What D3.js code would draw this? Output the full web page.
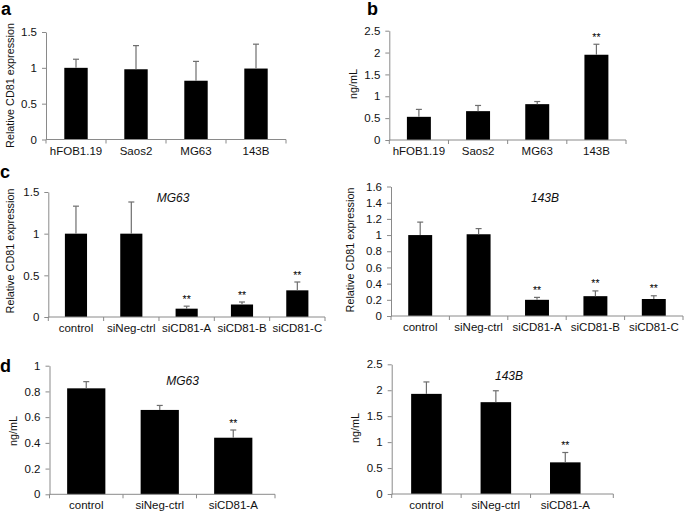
<!DOCTYPE html>
<html><head><meta charset="utf-8">
<script src="https://cdn.jsdelivr.net/npm/d3@7"></script>
<style>
body{margin:0;background:#fff}
svg{display:block}
text{font-family:"Liberation Sans",Arial,sans-serif}
</style>
</head><body>
<svg id="fig" width="685" height="511"></svg>
<script>
// ---------- data ----------
const cellLines = ["hFOB1.19", "Saos2", "MG63", "143B"];
const siGroups5 = ["control", "siNeg-ctrl", "siCD81-A", "siCD81-B", "siCD81-C"];
const siGroups3 = ["control", "siNeg-ctrl", "siCD81-A"];

// a: relative CD81 expression in cell lines
const aValues = [1.00, 0.98, 0.82, 0.99];
const aErrors = [0.12, 0.33, 0.27, 0.34];
const aStars  = ["", "", "", ""];
const aTicks  = [0, 0.5, 1, 1.5];

// b: CD81 ng/mL in cell lines
const bValues = [0.53, 0.66, 0.82, 1.95];
const bErrors = [0.17, 0.13, 0.06, 0.24];
const bStars  = ["", "", "", "**"];
const bTicks  = [0, 0.5, 1, 1.5, 2, 2.5];

// c: relative CD81 expression after siRNA, MG63
const cMG63Values = [1.00, 1.00, 0.10, 0.15, 0.32];
const cMG63Errors = [0.33, 0.38, 0.03, 0.03, 0.10];
const cMG63Stars  = ["", "", "**", "**", "**"];
const cMG63Ticks  = [0, 0.5, 1, 1.5];

// c: relative CD81 expression after siRNA, 143B
const c143BValues = [1.00, 1.01, 0.20, 0.245, 0.21];
const c143BErrors = [0.16, 0.07, 0.03, 0.065, 0.04];
const c143BStars  = ["", "", "**", "**", "**"];
const c143BTicks  = [0, 0.2, 0.4, 0.6, 0.8, 1, 1.2, 1.4, 1.6];

// d: ng/mL after siRNA, MG63
const dMG63Values = [0.824, 0.656, 0.44];
const dMG63Errors = [0.052, 0.035, 0.06];
const dMG63Stars  = ["", "", "**"];
const dMG63Ticks  = [0, 0.2, 0.4, 0.6, 0.8, 1];

// d: ng/mL after siRNA, 143B
const d143BValues = [1.93, 1.77, 0.61];
const d143BErrors = [0.23, 0.22, 0.19];
const d143BStars  = ["", "", "**"];
const d143BTicks  = [0, 0.5, 1, 1.5, 2, 2.5];

// ---------- drawing ----------
const svg = d3.select("#fig");
const AXIS = "#8a8a8a";
const TXT = "#111";
const FS = 11.5;
const FF = '"Liberation Sans",Arial,sans-serif';

function panel(o) {
  const g = svg.append("g");
  const x = d3.scaleBand().domain(o.cats).range(o.xr).padding(0);
  const y = d3.scaleLinear().domain([0, o.ticks[o.ticks.length - 1]]).range(o.yr);
  const bw = x.step() * o.bw;
  const rows = o.cats.map((c, i) => ({c, v: o.vals[i], e: o.errs[i], s: o.stars[i]}));
  const cx = d => x(d.c) + x.bandwidth() / 2;

  // bars
  g.selectAll("rect.bar").data(rows).join("rect")
    .attr("class", "bar")
    .attr("x", d => cx(d) - bw / 2)
    .attr("y", d => y(d.v))
    .attr("width", bw)
    .attr("height", d => y(0) - y(d.v))
    .attr("fill", "#000");

  // error bars (upper only)
  g.selectAll("line.err").data(rows).join("line")
    .attr("class", "err")
    .attr("x1", cx).attr("x2", cx)
    .attr("y1", d => y(d.v)).attr("y2", d => y(d.v + d.e))
    .attr("stroke", "#6e6e6e").attr("stroke-width", 1.2);
  g.selectAll("line.cap").data(rows).join("line")
    .attr("class", "cap")
    .attr("x1", d => cx(d) - 3).attr("x2", d => cx(d) + 3)
    .attr("y1", d => y(d.v + d.e)).attr("y2", d => y(d.v + d.e))
    .attr("stroke", "#6e6e6e").attr("stroke-width", 1.2);

  // significance stars
  g.selectAll("text.star").data(rows.filter(d => d.s)).join("text")
    .attr("class", "star")
    .attr("x", cx)
    .attr("y", d => y(d.v + d.e) - 3.5)
    .attr("text-anchor", "middle")
    .attr("font-size", 10.5)
    .attr("fill", "#000")
    .text(d => d.s);

  // y axis
  const ya = g.append("g")
    .attr("transform", `translate(${o.xr[0]},0)`)
    .call(d3.axisLeft(y).tickValues(o.ticks).tickSize(4).tickSizeOuter(0)
      .tickPadding(5).tickFormat(d3.format("~g")));
  ya.selectAll("path,line").attr("stroke", AXIS);
  ya.selectAll("text").attr("fill", TXT).attr("font-size", FS).attr("font-family", FF);

  // x axis (labels centered, ticks at category boundaries)
  const xa = g.append("g")
    .attr("transform", `translate(0,${o.yr[0]})`)
    .call(d3.axisBottom(x).tickSize(0).tickSizeOuter(0).tickPadding(7));
  xa.select("path.domain").remove();
  xa.selectAll("text").attr("fill", TXT).attr("font-size", FS).attr("font-family", FF);
  g.append("line")
    .attr("x1", o.xr[0]).attr("x2", o.xend || o.xr[1])
    .attr("y1", o.yr[0]).attr("y2", o.yr[0])
    .attr("stroke", AXIS);
  const bounds = d3.range(o.cats.length + 1).map(i => o.xr[0] + i * x.step());
  if (o.xend) bounds[bounds.length - 1] = o.xend;
  g.selectAll("line.xt").data(bounds).join("line")
    .attr("class", "xt")
    .attr("x1", d => d).attr("x2", d => d)
    .attr("y1", o.yr[0]).attr("y2", o.yr[0] + 4)
    .attr("stroke", AXIS);

  // y label
  g.append("text")
    .attr("transform", `translate(${o.ylab[0]},${o.ylab[1]}) rotate(-90)`)
    .attr("text-anchor", "middle").attr("dy", "0.35em")
    .attr("font-size", 10.8).attr("fill", TXT)
    .text(o.ylabel);

  // italic title
  if (o.title) {
    g.append("text")
      .attr("x", o.title[1]).attr("y", o.title[2])
      .attr("text-anchor", "middle")
      .attr("font-size", 12).attr("font-style", "italic").attr("fill", TXT)
      .text(o.title[0]);
  }
}

const relLab = "Relative CD81 expression";
panel({cats: cellLines, vals: aValues, errs: aErrors, stars: aStars, ticks: aTicks,
  xr: [46, 286], yr: [139.5, 32], bw: 0.39, ylabel: relLab, ylab: [10.5, 85.5]});
panel({cats: cellLines, vals: bValues, errs: bErrors, stars: bStars, ticks: bTicks,
  xr: [389.3, 626], yr: [140, 30.7], bw: 0.405, ylabel: "ng/mL", ylab: [353, 84]});
panel({cats: siGroups5, vals: cMG63Values, errs: cMG63Errors, stars: cMG63Stars, ticks: cMG63Ticks,
  xr: [48.3, 325], yr: [317, 192], bw: 0.40, ylabel: relLab, ylab: [10.5, 251], title: ["MG63", 173, 202]});
panel({cats: siGroups5, vals: c143BValues, errs: c143BErrors, stars: c143BStars, ticks: c143BTicks,
  xr: [391, 683], yr: [316, 186.5], bw: 0.41, ylabel: relLab, ylab: [350.5, 250], title: ["143B", 545, 202]});
panel({cats: siGroups3, vals: dMG63Values, errs: dMG63Errors, stars: dMG63Stars, ticks: dMG63Ticks,
  xr: [49.5, 270], yr: [494.3, 365.7], bw: 0.52, xend: 275, ylabel: "ng/mL", ylab: [13, 431], title: ["MG63", 182.5, 385]});
panel({cats: siGroups3, vals: d143BValues, errs: d143BErrors, stars: d143BStars, ticks: d143BTicks,
  xr: [391.7, 600], yr: [494, 364.3], bw: 0.44, xend: 613.3, ylabel: "ng/mL", ylab: [355, 428], title: ["143B", 509, 380]});

// panel letters
const letters = [["a", 1, 15], ["b", 367, 15], ["c", 0, 178], ["d", 0, 372]];
svg.selectAll("text.letter").data(letters).join("text")
  .attr("class", "letter")
  .attr("x", d => d[1]).attr("y", d => d[2])
  .attr("font-size", 18).attr("font-weight", "bold").attr("fill", "#000")
  .text(d => d[0]);
</script>
</body></html>
